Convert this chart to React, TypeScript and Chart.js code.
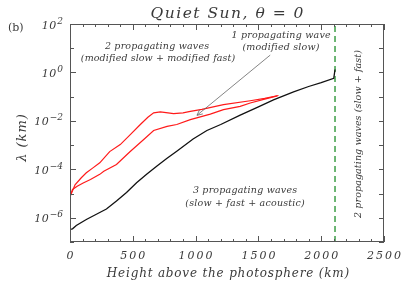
import React, { useEffect, useRef } from "react";
import { Chart, registerables } from "chart.js";
Chart.register(...registerables);

// Height above the photosphere (km) and wavelength lambda (km)
const blackHeight = [0, 20, 50, 130, 210, 290, 370, 450, 530, 610, 690, 770, 850, 980, 1090, 1200, 1355, 1500, 1620, 1780, 1900, 2000, 2100, 2110];
const blackLambda = [3.3e-7, 3.5e-7, 4.8e-7, 8.5e-7, 1.4e-6, 2.3e-6, 4.9e-6, 1.1e-5, 2.8e-5, 6.2e-5, 1.35e-4, 2.8e-4, 5.6e-4, 1.8e-3, 4.0e-3, 7.1e-3, 1.74e-2, 3.8e-2, 7.4e-2, 0.158, 0.263, 0.38, 0.575, 1.32];

const redUpperHeight = [0, 15, 40, 90, 130, 180, 237, 316, 400, 480, 560, 620, 666, 719, 780, 825, 900, 958, 1050, 1222, 1435, 1550, 1660];
const redUpperLambda = [7.6e-6, 1.12e-5, 2.3e-5, 4.5e-5, 7.2e-5, 1.12e-4, 1.86e-4, 5.4e-4, 1.05e-3, 2.7e-3, 7.1e-3, 1.41e-2, 2.14e-2, 2.34e-2, 2.14e-2, 2.0e-2, 2.14e-2, 2.45e-2, 3.0e-2, 4.7e-2, 6.8e-2, 8.5e-2, 0.112];

const redLowerHeight = [0, 20, 57, 105, 163, 237, 269, 370, 475, 587, 666, 773, 850, 958, 1117, 1222, 1355, 1435, 1550, 1650];
const redLowerLambda = [7.6e-6, 1.48e-5, 2.0e-5, 2.75e-5, 3.8e-5, 6.2e-5, 8.3e-5, 1.58e-4, 5.2e-4, 1.7e-3, 4.0e-3, 5.9e-3, 7.1e-3, 1.12e-2, 1.9e-2, 2.9e-2, 4.0e-2, 5.5e-2, 7.9e-2, 0.107];

const cutoffHeight = 2110;
const arrowFrom = [1594, 5.2];
const arrowTo = [1011, 0.017];

const xTickLabels = ["0", "500", "1000", "1500", "2000", "2500"];
const xMajorValues = [0, 500, 1000, 1500, 2000, 2500];
const yLabelExponents = [-6, -4, -2, 0, 2];
const yDecadeExponents = [-7, -6, -5, -4, -3, -2, -1, 0, 1, 2];

const FONT = '"DejaVu Serif"';
const TEXT = "#3a3a3a";
const AXIS = "#555555";

function pts(xs: number[], ys: number[]) {
  return xs.map((x, i) => ({ x, y: ys[i] }));
}

function txt(ctx: CanvasRenderingContext2D, s: string, x: number, y: number, size: number, align: CanvasTextAlign, spacing = 0, italic = true) {
  ctx.font = `${italic ? "italic " : ""}${size}px ${FONT}`;
  (ctx as any).letterSpacing = `${spacing}px`;
  ctx.textAlign = align;
  ctx.fillText(s, x + (align === "center" ? spacing / 2 : 0), y);
  (ctx as any).letterSpacing = "0px";
}

export default function App() {
  const ref = useRef<HTMLCanvasElement>(null);
  useEffect(() => {
    document.body.style.margin = "0";
    const canvas = ref.current!;
    const decor = {
      id: "decor",
      afterDraw(chart: any) {
        const ctx: CanvasRenderingContext2D = chart.ctx;
        const { left, right, top, bottom } = chart.chartArea;
        const xs = chart.scales.x;
        const ys = chart.scales.y;
        ctx.save();
        // frame
        ctx.strokeStyle = AXIS;
        ctx.lineWidth = 1;
        ctx.strokeRect(left + 0.5, top + 0.5, right - left - 1, bottom - top - 1);
        ctx.beginPath();
        // x ticks
        for (let v = 0; v <= 2500; v += 100) {
          const px = Math.round(xs.getPixelForValue(v)) + 0.5;
          const len = v % 500 === 0 ? 6 : 3;
          ctx.moveTo(px, bottom);
          ctx.lineTo(px, bottom - len);
          ctx.moveTo(px, top);
          ctx.lineTo(px, top + len);
        }
        // y ticks
        yDecadeExponents.forEach((e) => {
          const py = Math.round(ys.getPixelForValue(Math.pow(10, e))) + 0.5;
          const len = e % 2 === 0 ? 6 : 4;
          ctx.moveTo(left, py);
          ctx.lineTo(left + len, py);
          ctx.moveTo(right, py);
          ctx.lineTo(right - 5, py);
        });
        ctx.stroke();

        // arrow
        const ax0 = xs.getPixelForValue(arrowFrom[0]);
        const ay0 = ys.getPixelForValue(arrowFrom[1]);
        const ax1 = xs.getPixelForValue(arrowTo[0]);
        const ay1 = ys.getPixelForValue(arrowTo[1]);
        ctx.strokeStyle = "#666";
        ctx.lineWidth = 0.8;
        ctx.beginPath();
        ctx.moveTo(ax0, ay0);
        ctx.lineTo(ax1, ay1);
        const ang = Math.atan2(ay0 - ay1, ax0 - ax1);
        const hl = 6;
        ctx.moveTo(ax1 + hl * Math.cos(ang + 0.45), ay1 + hl * Math.sin(ang + 0.45));
        ctx.lineTo(ax1, ay1);
        ctx.lineTo(ax1 + hl * Math.cos(ang - 0.45), ay1 + hl * Math.sin(ang - 0.45));
        ctx.stroke();

        ctx.fillStyle = TEXT;
        ctx.textBaseline = "alphabetic";
        // x tick labels
        xMajorValues.forEach((v, i) => {
          txt(ctx, xTickLabels[i], xs.getPixelForValue(v), 259, 11, "center", 2);
        });
        // y tick labels
        yLabelExponents.forEach((e) => {
          const py = ys.getPixelForValue(Math.pow(10, e));
          const expStr = e < 0 ? "\u2212" + Math.abs(e) : String(e);
          ctx.font = `italic 9px ${FONT}`;
          const ew = ctx.measureText(expStr).width;
          txt(ctx, expStr, 63, py - 0.5, 9, "right");
          txt(ctx, "10", 63 - ew - 0.5, py + 4.5, 11, "right", 0.5);
        });
        // title
        txt(ctx, "Quiet Sun, \u03b8 = 0", 227, 18, 15.5, "center", 1.5);
        txt(ctx, "(b)", 8, 31, 11, "left", 0, false);
        // x title
        txt(ctx, "Height above the photosphere (km)", 228, 277, 12, "center", 0.8);
        // y title
        ctx.save();
        ctx.translate(26, 138);
        ctx.rotate(-Math.PI / 2);
        txt(ctx, "\u03bb (km)", 0, 0, 13, "center", 1);
        ctx.restore();
        // annotations
        txt(ctx, "2 propagating waves", 157, 49, 9.5, "center", 0.2);
        txt(ctx, "(modified slow + modified fast)", 158, 61, 9.5, "center", 0.1);
        txt(ctx, "1 propagating wave", 281, 38, 9.5, "center", 0.2);
        txt(ctx, "(modified slow)", 281, 50, 9.5, "center", 0.2);
        txt(ctx, "3 propagating waves", 245, 193, 9.5, "center", 0.2);
        txt(ctx, "(slow + fast + acoustic)", 245, 206, 9.5, "center", 0.2);
        ctx.save();
        ctx.translate(361, 134);
        ctx.rotate(-Math.PI / 2);
        txt(ctx, "2 propagating waves (slow + fast)", 0, 0, 9.5, "center", 0.1);
        ctx.restore();
        ctx.restore();
      },
    };
    const chart = new Chart(canvas, {
      type: "line",
      data: {
        datasets: [
          { data: pts(blackHeight, blackLambda), borderColor: "#111", borderWidth: 1.3 },
          { data: pts(redUpperHeight, redUpperLambda), borderColor: "#ff1a1a", borderWidth: 1.2 },
          { data: pts(redLowerHeight, redLowerLambda), borderColor: "#ff1a1a", borderWidth: 1.2 },
          {
            data: pts([cutoffHeight, cutoffHeight], [1e-7, 1e2]),
            borderColor: "#1f8f2a",
            borderWidth: 1.3,
            borderDash: [6, 4],
          },
        ] as any,
      },
      options: {
        animation: false,
        responsive: false,
        devicePixelRatio: 1,
        layout: { padding: { left: 70, right: 23, top: 24, bottom: 49 } },
        elements: { point: { radius: 0 }, line: { tension: 0 } },
        plugins: { legend: { display: false }, tooltip: { enabled: false }, title: { display: false } },
        scales: {
          x: { type: "linear", min: 0, max: 2500, display: false },
          y: { type: "logarithmic", min: 1e-7, max: 1e2, display: false },
        },
      },
      plugins: [decor],
    });
    return () => chart.destroy();
  }, []);
  return (
    <div style={{ width: 407, height: 291, position: "relative" }}>
      <canvas ref={ref} width={407} height={291} style={{ width: 407, height: 291, display: "block" }} />
    </div>
  );
}
